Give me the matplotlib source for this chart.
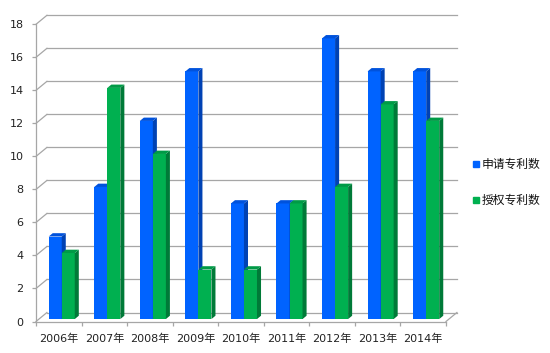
import matplotlib
matplotlib.use("Agg")
import matplotlib.pyplot as plt
from matplotlib.patches import Polygon, Rectangle

plt.rcParams['font.family'] = ['DejaVu Sans', 'Noto Sans CJK SC']

years = ["2006年", "2007年", "2008年", "2009年", "2010年", "2011年", "2012年", "2013年", "2014年"]
applied = [5, 8, 12, 15, 7, 7, 17, 15, 15]
granted = [4, 14, 10, 3, 3, 7, 8, 13, 12]
series_names = ["申请专利数", "授权专利数"]
y_ticks = [0, 2, 4, 6, 8, 10, 12, 14, 16, 18]

# colours: front, side, top
blue = ("#0063ff", "#0042b4", "#0052dc")
green = ("#00b050", "#007a38", "#009a46")
grid_col = "#a6a6a6"

# fake 3d depth in data units
DX, DY = 0.24, 0.545
f = 0.27      # depth where the bars start
bd = 0.37     # bar depth
w = 0.286     # bar width

fig = plt.figure(figsize=(5.5, 3.53), dpi=100)
ax = fig.add_axes([36 / 550, 31.5 / 353, 410 / 550, 297.2 / 353])
n = len(years)
ax.set_xlim(0, n)
ax.set_ylim(0, 18)

# walls / floor
for v in y_ticks:
    ax.plot([0, DX], [v, v + DY], color=grid_col, lw=0.9, clip_on=False, zorder=1)
    ax.plot([DX, n + DX], [v + DY, v + DY], color=grid_col, lw=0.9, clip_on=False, zorder=1)
ax.plot([n, n + DX], [0, DY], color=grid_col, lw=0.9, clip_on=False, zorder=1)


def draw_bars(xl, vals, cols):
    bottom = f * DY
    ax.bar(xl, vals, width=w, bottom=bottom, align='edge', color=cols[0], zorder=3)
    for x0, v in zip(xl, vals):
        x1 = x0 + w
        top = bottom + v
        side = [(x1, bottom), (x1 + bd * DX, bottom + bd * DY), (x1 + bd * DX, top + bd * DY), (x1, top)]
        cap = [(x0, top), (x0 + bd * DX, top + bd * DY), (x1 + bd * DX, top + bd * DY), (x1, top)]
        ax.add_patch(Polygon(side, closed=True, color=cols[1], lw=0, zorder=3))
        ax.add_patch(Polygon(cap, closed=True, color=cols[2], lw=0, zorder=3))


centers = [i + 0.5 + f * DX for i in range(n)]
draw_bars([c - w for c in centers], applied, blue)
draw_bars(centers, granted, green)

for s in ["top", "right"]:
    ax.spines[s].set_visible(False)
for s in ["left", "bottom"]:
    ax.spines[s].set_color(grid_col)
    ax.spines[s].set_linewidth(0.9)

ax.set_yticks(y_ticks)
ax.set_xticks(range(n + 1))
ax.set_xticklabels([])
ax.set_xticks([i + 0.5 for i in range(n)], labels=years, minor=True)
ax.tick_params(axis='x', which='major', length=3, color=grid_col, width=0.9)
ax.tick_params(axis='x', which='minor', length=0, labelsize=8, pad=9, labelcolor="#222222")
ax.tick_params(axis='y', length=3, color=grid_col, width=0.9, labelsize=8, pad=6, labelcolor="#222222")

# legend
for k, (name, cols) in enumerate(zip(series_names, [blue, green])):
    yc = 1 - (164 + 36 * k) / 353
    fig.add_artist(Rectangle((473 / 550, yc - 3 / 353), 6 / 550, 6 / 353, color=cols[0], transform=fig.transFigure))
    fig.text(482 / 550, yc, name, fontsize=8.5, va='center', ha='left', color="#111111")

fig.savefig("out.png", dpi=100)
